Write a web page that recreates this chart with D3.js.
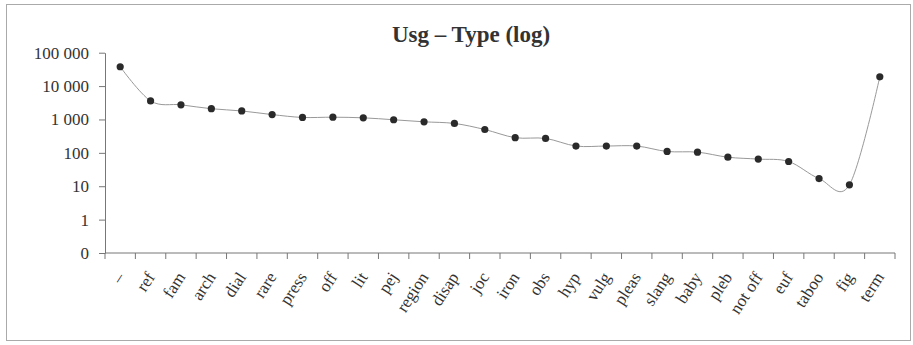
<!DOCTYPE html>
<html>
<head>
<meta charset="utf-8">
<script src="https://cdn.jsdelivr.net/npm/d3@7"></script>
<style>
  body { margin: 0; background: #fff; }
  svg { display: block; }
  text { fill: #333; }
</style>
</head>
<body>
<svg id="chart" width="913" height="345"></svg>
<script>
const categories = ['–', 'ref', 'fam', 'arch', 'dial', 'rare', 'press', 'off', 'lit', 'pej', 'region', 'disap',
  'joc', 'iron', 'obs', 'hyp', 'vulg', 'pleas', 'slang', 'baby', 'pleb', 'not off', 'euf', 'taboo', 'fig', 'term']
const counts = [38000, 3600, 2750, 2100, 1800, 1400, 1150, 1170, 1120, 980, 850, 760,
  500, 285, 270, 160, 160, 160, 110, 105, 74, 65, 55, 17, 11, 19000]
const yTicks = [0.1, 1, 10, 100, 1000, 10000, 100000]
const yTickLabels = ['0', '1', '10', '100', '1 000', '10 000', '100 000']

const margin = { left: 105, right: 18, top: 52.7, bottom: 92 }
const size = { width: 913, height: 345 }
const svg = d3.select('#chart')

// outer frame
svg.append('rect')
  .attr('x', 6.5).attr('y', 4.5)
  .attr('width', 904).attr('height', 336)
  .attr('fill', 'none').attr('stroke', '#aaa').attr('stroke-width', 1)

const x = d3.scaleBand()
  .domain(categories)
  .range([margin.left, size.width - margin.right])

const y = d3.scaleLog()
  .domain([0.1, 100000])
  .range([size.height - margin.bottom, margin.top])

const axisY = y.range()[0]

// y axis
const yAxis = svg.append('g')
  .attr('transform', `translate(${margin.left},0)`)
  .call(d3.axisLeft(y).tickValues(yTicks).tickSize(6).tickSizeOuter(0)
    .tickFormat((d, i) => yTickLabels[i]))
yAxis.select('.domain').attr('stroke', '#777')
yAxis.selectAll('.tick line').attr('stroke', '#777')
yAxis.selectAll('.tick text')
  .attr('x', -16)
  .attr('font-family', 'Liberation Serif, Times New Roman, serif')
  .attr('font-size', 17)
  .attr('fill', '#333')

// x axis: ticks between categories
const xAxis = svg.append('g').attr('transform', `translate(0,${axisY})`)
xAxis.append('line')
  .attr('x1', x.range()[0]).attr('x2', x.range()[1])
  .attr('stroke', '#777')
const bounds = categories.map(c => x(c)).concat([x.range()[1]])
xAxis.selectAll('line.tick')
  .data(bounds)
  .enter()
  .append('line')
  .attr('class', 'tick')
  .attr('x1', d => d).attr('x2', d => d)
  .attr('y1', 0).attr('y2', 6)
  .attr('stroke', '#777')

xAxis.selectAll('text')
  .data(categories)
  .enter()
  .append('text')
  .attr('transform', d => `translate(${x(d) + x.bandwidth() / 2 + 5},${24}) rotate(-57)`)
  .attr('text-anchor', 'end')
  .attr('font-family', 'Liberation Serif, Times New Roman, serif')
  .attr('font-size', 17)
  .attr('fill', '#333')
  .text(d => d)

// smoothed line
const line = d3.line()
  .x((d, i) => x(categories[i]) + x.bandwidth() / 2)
  .y(d => y(d))
  .curve(d3.curveCardinal)

svg.append('path')
  .datum(counts)
  .attr('d', line)
  .attr('fill', 'none')
  .attr('stroke', '#999')
  .attr('stroke-width', 1)

svg.selectAll('circle')
  .data(counts)
  .enter()
  .append('circle')
  .attr('cx', (d, i) => x(categories[i]) + x.bandwidth() / 2)
  .attr('cy', d => y(d))
  .attr('r', 3.6)
  .attr('fill', '#2a2a2a')

// title
svg.append('text')
  .attr('x', 471).attr('y', 42)
  .attr('text-anchor', 'middle')
  .attr('font-family', 'Liberation Serif, Times New Roman, serif')
  .attr('font-weight', 'bold')
  .attr('font-size', 23)
  .attr('fill', '#333')
  .text('Usg – Type (log)')
</script>
</body>
</html>
